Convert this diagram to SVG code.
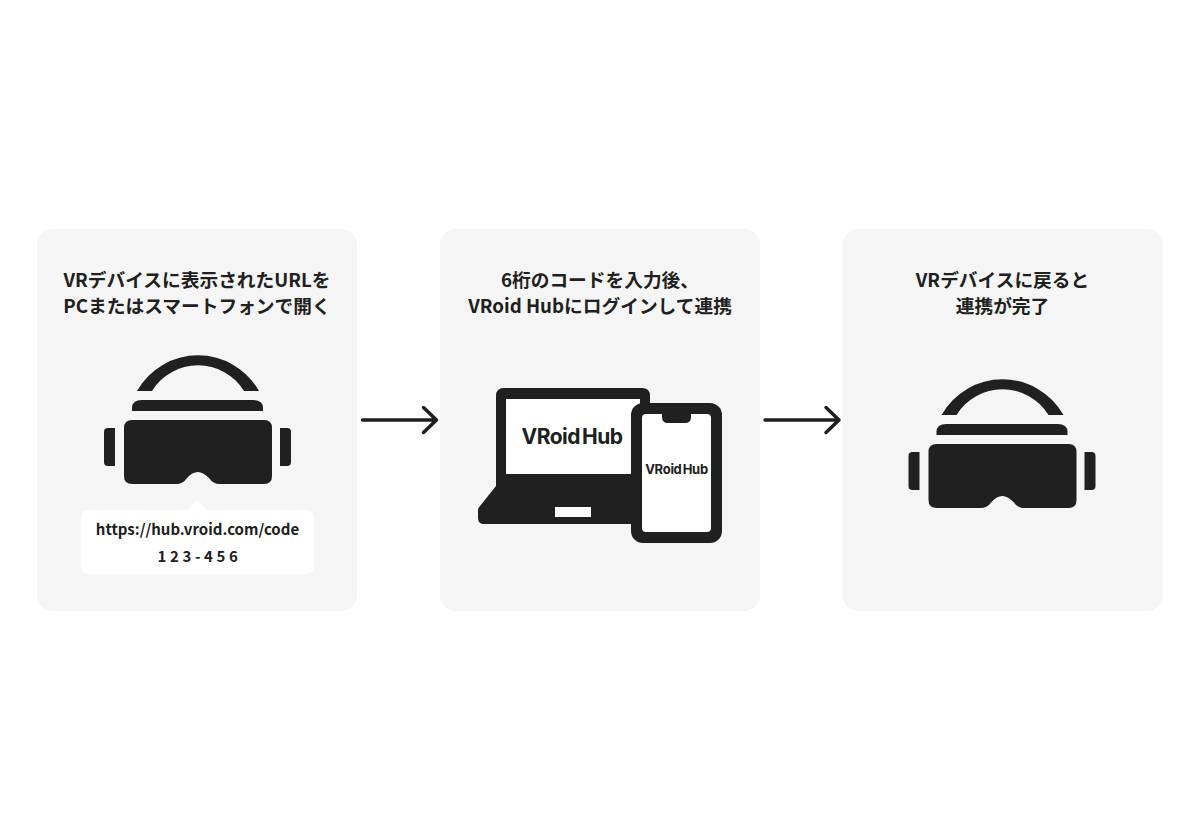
<svg xmlns="http://www.w3.org/2000/svg" width="1200" height="840" viewBox="0 0 1200 840">
<style>
.card{fill:#f5f5f5}
.ink{fill:#202020}
.white{fill:#fff}
.t{font-family:"Noto Sans CJK JP","Noto Sans",sans-serif;font-weight:700;font-size:18.720px;fill:#202020;text-anchor:middle}
.u{font-size:15px;letter-spacing:0}
.c{font-size:15px;letter-spacing:3.6px}
.logo{font-family:Inter,"Liberation Sans",sans-serif;font-weight:700;fill:#202020;text-anchor:middle}
.arrow{fill:none;stroke:#202020;stroke-width:3.5;stroke-linecap:round;stroke-linejoin:round}
</style>
<defs>
<g id="vr">
<path d="M137 391A70 70 0 0 1 259 391H244A54 54 0 0 0 152 391Z" class="ink"/>
<path d="M132 411V408Q132 400 142 400H253Q263 400 263 408V411Z" class="ink"/>
<path d="M132 420H264Q272 420 272 428V476Q272 484 264 484H220Q213 484 209 478Q203 472 198 472Q192 472 187 478Q183 484 176 484H132Q124 484 124 476V428Q124 420 132 420Z" class="ink"/>
<path d="M115 428V466H108Q104 466 104 462V432Q104 428 108 428Z" class="ink"/>
<path d="M280 428V466H287Q291 466 291 462V432Q291 428 287 428Z" class="ink"/>
</g>
</defs>
<rect width="1200" height="840" fill="#fff"/>
<g id="node-1">
<rect class="card" x="37" y="229" width="320" height="382" rx="16"/>
<text class="t" x="197" y="286.500">VRデバイスに表示されたURLを</text>
<text class="t" x="197" y="312.500">PCまたはスマートフォンで開く</text>
<use href="#vr"/>
<path class="white" d="M89 510H187L197 500L207 510H306Q314 510 314 518V566Q314 574 306 574H89Q81 574 81 566V518Q81 510 89 510Z"/>
<text class="t u" x="197.500" y="535">https://hub.vroid.com/code</text>
<text class="t c" x="199.500" y="562">123-456</text>
</g>
<g id="node-2">
<rect class="card" x="440" y="229" width="320" height="382" rx="16"/>
<text class="t" x="600" y="286.500">6桁のコードを入力後、</text>
<text class="t" x="600" y="312.500">VRoid Hubにログインして連携</text>
<path class="ink" d="M504 388H642Q650 388 650 396V480H640V524H484Q478 524 478 518V510Q478 508 480 506L496 486V396Q496 388 504 388Z"/>
<rect class="white" x="506" y="399" width="134" height="75"/>
<rect class="white" x="555" y="507" width="36" height="10"/>
<text class="logo" x="572" y="444" font-size="21" letter-spacing="-0.5" word-spacing="-2.500">VRoid Hub</text>
<rect class="ink" x="631" y="403" width="91" height="140" rx="12"/>
<path class="white" d="M646 414H662V417Q662 423 668 423H685Q691 423 691 417V414H707Q711 414 711 418V528Q711 532 707 532H646Q642 532 642 528V418Q642 414 646 414Z"/>
<text class="logo" x="676.500" y="474" font-size="13" letter-spacing="-0.3" word-spacing="-1.600">VRoid Hub</text>
</g>
<g id="node-3">
<rect class="card" x="842.500" y="229" width="320" height="382" rx="16"/>
<text class="t" x="1002.500" y="286.500">VRデバイスに戻ると</text>
<text class="t" x="1002.500" y="312.500">連携が完了</text>
<use href="#vr" x="804.500" y="24"/>
</g>
<g id="connectors">
<path class="arrow" d="M362.500 420H435M423.500 407.500L436.500 420L423.500 432.500"/>
<path class="arrow" d="M765 420H838M826 407.500L839 420L826 432.500"/>
</g>
</svg>
